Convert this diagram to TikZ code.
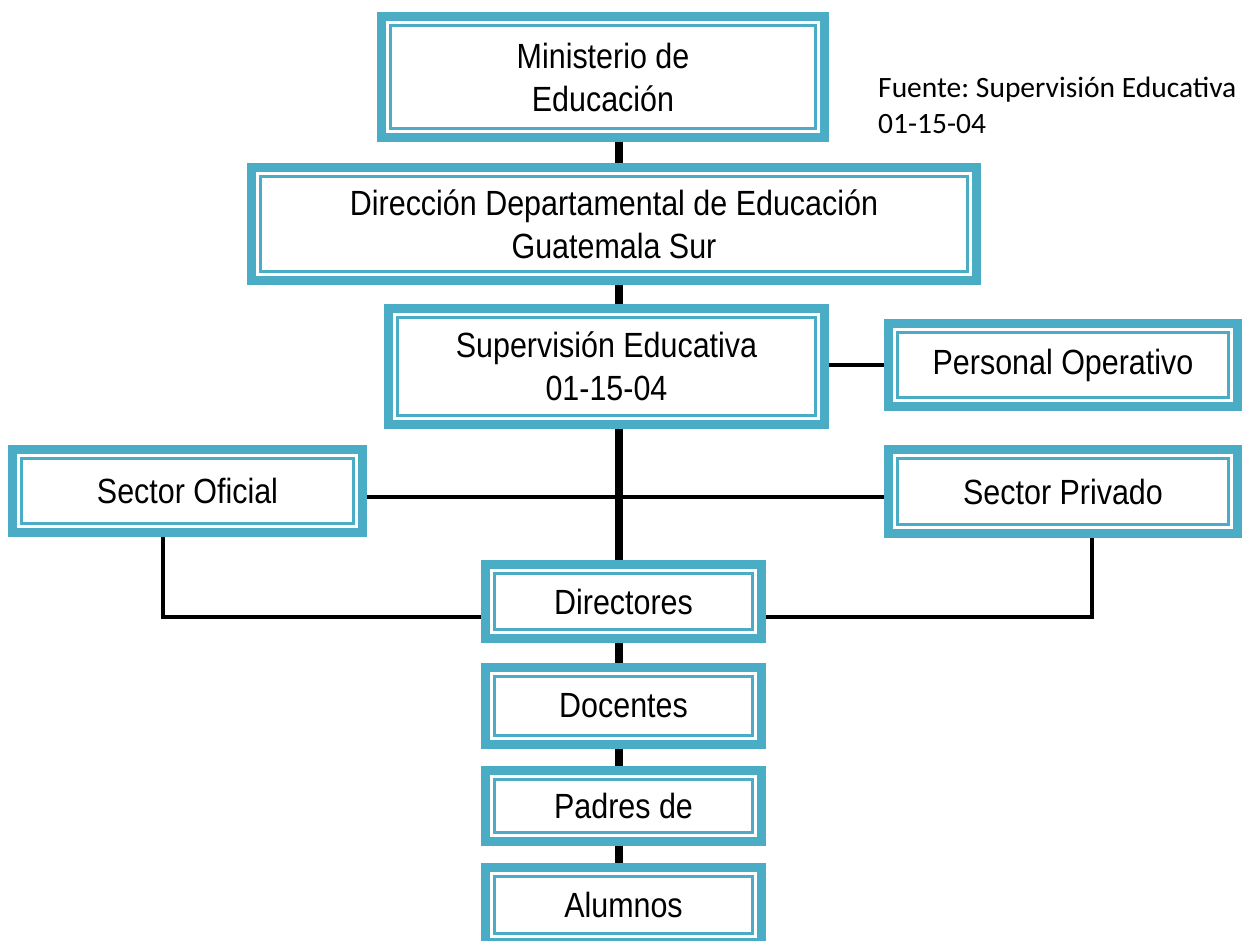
\documentclass[tikz,border=0pt]{standalone}
\usepackage{fontspec}
\setmainfont{Liberation Sans}
\newfontfamily\boxfont[FakeStretch=0.87]{Liberation Sans}
\newfontfamily\notefont{Carlito}
\usetikzlibrary{backgrounds}
\definecolor{tealfive}{HTML}{4BACC6}
\frenchspacing
\tikzset{
  obox/.style={draw=tealfive, line width=9pt, fill=white, inner sep=0pt, align=center,
    font=\boxfont\fontsize{35}{43}\selectfont,
    path picture={\draw[tealfive, line width=2.2pt]
      ([shift={(9pt,9pt)}]path picture bounding box.south west) rectangle
      ([shift={(-9pt,-9pt)}]path picture bounding box.north east);}},
  thickline/.style={line width=8pt, black},
  thinline/.style={line width=3.5pt, black},
  note/.style={anchor=base west, inner sep=0pt, font=\notefont\fontsize{29.5}{36}\selectfont}
}
\begin{document}
\begin{tikzpicture}[x=1pt,y=-1pt]
\useasboundingbox (0,0) rectangle (1245,940);
\clip (0,0) rectangle (1245,940);
\node[obox, minimum width=443pt, minimum height=121pt] (m) at (603,77) {Ministerio de\\Educación};
\node[obox, minimum width=725pt, minimum height=113pt] (d) at (614,224) {Dirección Departamental de Educación\\Guatemala Sur};
\node[obox, minimum width=436pt, minimum height=116pt] (s) at (606.5,366.5) {Supervisión Educativa\\01-15-04};
\node[obox, minimum width=349pt, minimum height=83pt] (p) at (1063,365) {Personal Operativo};
\node[obox, minimum width=350pt, minimum height=83pt] (o) at (187.5,491) {Sector Oficial};
\node[obox, minimum width=349pt, minimum height=84pt] (v) at (1063,491.5) {Sector Privado};
\node[obox, minimum width=276pt, minimum height=74pt] (dir) at (623.5,601.5) {Directores};
\node[obox, minimum width=276pt, minimum height=77pt] (doc) at (623.5,706) {Docentes};
\node[obox, minimum width=276pt, minimum height=71pt] (pad) at (623.5,806) {Padres de};
\node[obox, minimum width=276pt, minimum height=75pt] (alu) at (623.5,905) {Alumnos};
\node[note] (f1) at (878,97) {Fuente: Supervisión Educativa};
\node[note] (f2) at (878,133) {01-15-04};
\coordinate (trunk) at (619,0);
\coordinate (hl) at (0,497);
\coordinate (oc) at (163,617);
\coordinate (vc) at (1092,617);
\begin{scope}[on background layer]
  \draw[thinline] (o.east |- hl) -- (v.west |- hl);
  \draw[thinline] (s.east |- p.west) -- (p.west);
  \draw[thinline] (o.south -| oc) -- (oc) -- (dir.west |- oc);
  \draw[thinline] (v.south -| vc) -- (vc) -- (dir.east |- vc);
  \draw[thickline] (m.south -| trunk) -- (d.north -| trunk);
  \draw[thickline] (d.south -| trunk) -- (s.north -| trunk);
  \draw[thickline] (s.south -| trunk) -- (dir.north -| trunk);
  \draw[thickline] (dir.south -| trunk) -- (doc.north -| trunk);
  \draw[thickline] (doc.south -| trunk) -- (pad.north -| trunk);
  \draw[thickline] (pad.south -| trunk) -- (alu.north -| trunk);
\end{scope}
\end{tikzpicture}
\end{document}
